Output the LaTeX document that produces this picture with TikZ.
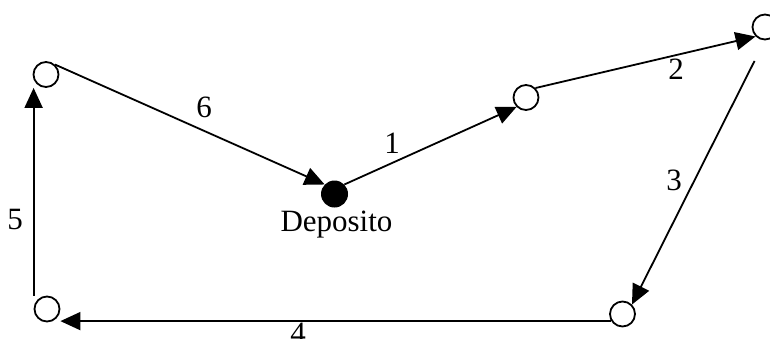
\documentclass[tikz,border=0pt]{standalone}
\usepackage{fontspec}
\setmainfont{Liberation Serif}
\usetikzlibrary{arrows.meta}
\begin{document}
\begin{tikzpicture}[x=1pt,y=-1pt,
  city/.style={circle,draw,line width=1.8pt,minimum size=25pt,inner sep=0pt},
  depot/.style={circle,fill,minimum size=27pt,inner sep=0pt},
  route/.style={line width=1.8pt,-{Triangle[length=20pt,width=18pt]}},
  lbl/.style={inner sep=0pt,font=\fontsize{31}{36}\selectfont}]
\useasboundingbox (0,0) rectangle (770,338);
\node[city] (A) at (46,74.5) {};
\node[depot] (Dep) at (334.5,194) {};
\node[city] (B) at (526,97.5) {};
\node[city] (C) at (765,27) {};
\node[city] (D) at (622.5,314) {};
\node[city] (E) at (47,309) {};
\coordinate (c3) at (754.5,61);
\node[lbl,anchor=base] (deplbl) at (336.5,231) {Deposito};
\draw[route] (A.48) -- (Dep.136);
\draw[route] (Dep.44) -- (B.225);
\draw[route] (B.45) -- (C.225);
\draw[route] (c3) -- (D.45);
\draw[route] (D.212) -- (D.212 -| E.east);
\draw[route] (E.north -| E.west) -- (A.south -| E.west);
\node[lbl] (l6) at (204,107.5) {6};
\node[lbl] (l1) at (392,143.5) {1};
\node[lbl] (l2) at (676,69) {2};
\node[lbl] (l3) at (674,180) {3};
\node[lbl] (l4) at (298,333.5) {4};
\node[lbl] (l5) at (15,219) {5};
\end{tikzpicture}
\end{document}
